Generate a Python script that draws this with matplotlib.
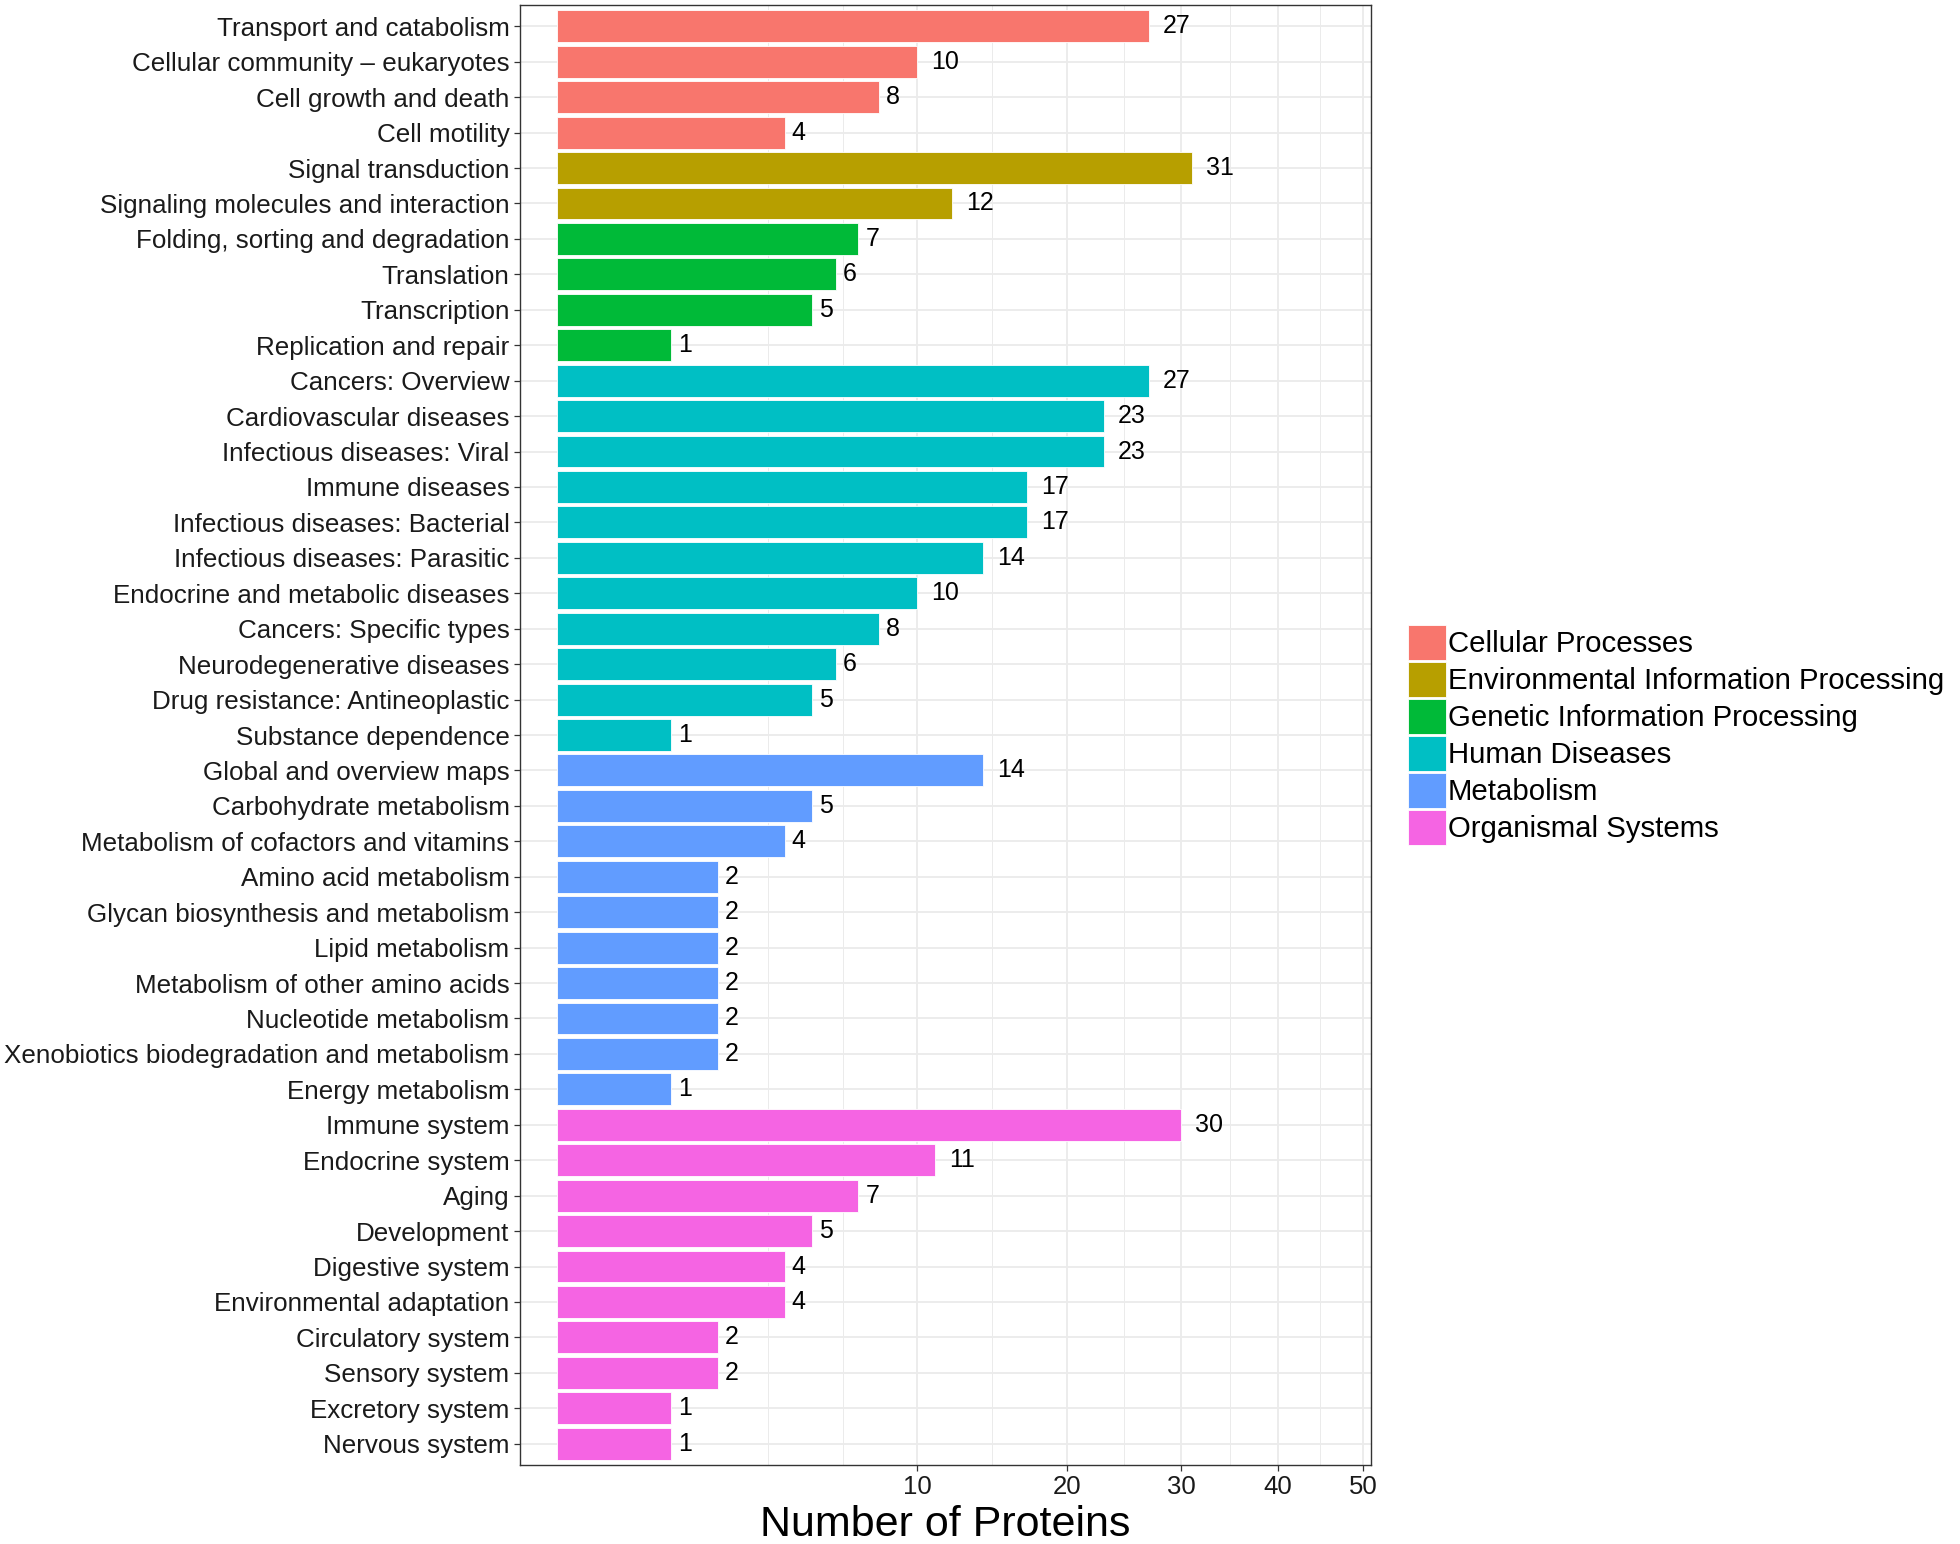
import numpy as np
import matplotlib
matplotlib.use('Agg')
import matplotlib.pyplot as plt
from matplotlib.patches import Patch

plt.rcParams['font.family'] = ['Liberation Sans', 'DejaVu Sans']

# KEGG level-2 pathways, top to bottom
pathways = [
    'Transport and catabolism', 'Cellular community \u2013 eukaryotes', 'Cell growth and death', 'Cell motility',
    'Signal transduction', 'Signaling molecules and interaction',
    'Folding, sorting and degradation', 'Translation', 'Transcription', 'Replication and repair',
    'Cancers: Overview', 'Cardiovascular diseases', 'Infectious diseases: Viral', 'Immune diseases',
    'Infectious diseases: Bacterial', 'Infectious diseases: Parasitic', 'Endocrine and metabolic diseases',
    'Cancers: Specific types', 'Neurodegenerative diseases', 'Drug resistance: Antineoplastic',
    'Substance dependence',
    'Global and overview maps', 'Carbohydrate metabolism', 'Metabolism of cofactors and vitamins',
    'Amino acid metabolism', 'Glycan biosynthesis and metabolism', 'Lipid metabolism',
    'Metabolism of other amino acids', 'Nucleotide metabolism', 'Xenobiotics biodegradation and metabolism',
    'Energy metabolism',
    'Immune system', 'Endocrine system', 'Aging', 'Development', 'Digestive system',
    'Environmental adaptation', 'Circulatory system', 'Sensory system', 'Excretory system', 'Nervous system',
]
counts = [27, 10, 8, 4,
          31, 12,
          7, 6, 5, 1,
          27, 23, 23, 17, 17, 14, 10, 8, 6, 5, 1,
          14, 5, 4, 2, 2, 2, 2, 2, 2, 1,
          30, 11, 7, 5, 4, 4, 2, 2, 1, 1]
groups = (['Cellular Processes'] * 4 + ['Environmental Information Processing'] * 2
          + ['Genetic Information Processing'] * 4 + ['Human Diseases'] * 11
          + ['Metabolism'] * 10 + ['Organismal Systems'] * 10)

group_names = ['Cellular Processes', 'Environmental Information Processing',
               'Genetic Information Processing', 'Human Diseases', 'Metabolism', 'Organismal Systems']
group_colors = ['#F8766D', '#B79F00', '#00BA38', '#00BFC4', '#619CFF', '#F564E3']
x_ticks = [10, 20, 30, 40, 50]

cmap = dict(zip(group_names, group_colors))


def fwd(x):
    x = np.asarray(x, dtype=float)
    return np.sign(x) * np.sqrt(np.abs(x))


def inv(y):
    y = np.asarray(y, dtype=float)
    return np.sign(y) * y ** 2


W, H = 1960, 1544
fig = plt.figure(figsize=(W / 100, H / 100), dpi=100)
ax = fig.add_axes([520 / W, (H - 1465) / H, (1371 - 520) / W, (1465 - 5) / H])

n = len(pathways)
ypos = np.arange(n)
ax.set_xscale('function', functions=(fwd, inv))
ax.barh(ypos, counts, height=0.9, color=[cmap[g] for g in groups],
        edgecolor='white', linewidth=0.6, zorder=3)

# value labels, nudged right by half their own width (like hjust = -0.5)
for y, v in zip(ypos, counts):
    s = str(v)
    ax.annotate(s, (v, y), xytext=(7 * len(s), 0), textcoords='offset pixels',
                ha='left', va='center', fontsize=18, color='black', zorder=4)

ax.set_xlim(-0.1037, 51.0)
ax.set_ylim(n - 0.4, -0.6)

# grid like ggplot theme_bw (sqrt scale, minor breaks at mid-points in sqrt space)
ax.set_xticks(x_ticks)
ax.set_xticklabels([str(t) for t in x_ticks])
sq = np.sqrt(x_ticks)
ext = np.concatenate([[sq[0] - (sq[1] - sq[0])], sq])
mids = (ext[:-1] + ext[1:]) / 2
minor_x = np.concatenate([[ext[0]], mids]) ** 2
ax.set_xticks(minor_x, minor=True)
ax.tick_params(axis='x', which='minor', length=0)
ax.grid(True, axis='x', which='major', color='#EBEBEB', linewidth=1.3, zorder=0)
ax.grid(True, axis='x', which='minor', color='#EBEBEB', linewidth=0.7, zorder=0)
ax.grid(True, axis='y', which='major', color='#EBEBEB', linewidth=1.3, zorder=0)
ax.set_axisbelow(True)

ax.set_yticks(ypos)
ax.set_yticklabels(pathways)
ax.tick_params(axis='both', which='major', length=4.5, width=0.9, color='#333333',
               labelsize=18.7, labelcolor='#1a1a1a', pad=3)
ax.tick_params(axis='x', which='major', labelsize=18.5)

for sp in ax.spines.values():
    sp.set_color('#333333')
    sp.set_linewidth(1.0)

ax.set_xlabel('Number of Proteins', fontsize=31, labelpad=4)

handles = [Patch(facecolor=c, edgecolor='white', linewidth=0.6) for c in group_colors]
fig.legend(handles, group_names, loc='center left', bbox_to_anchor=(1408 / W, 0.524),
           frameon=False, fontsize=21.2, handlelength=1.3, handleheight=1.48,
           labelspacing=0.05, handletextpad=0.06, borderpad=0, borderaxespad=0)

fig.savefig('out.png', dpi=100)
